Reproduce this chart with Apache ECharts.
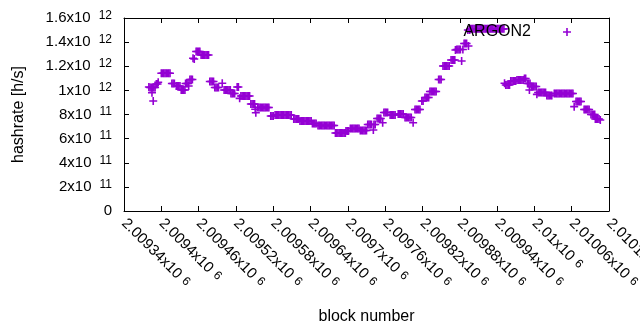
<!DOCTYPE html>
<html>
<head>
<meta charset="utf-8">
<script src="https://cdn.jsdelivr.net/npm/echarts/dist/echarts.min.js"></script>
<style>
  html, body { margin: 0; padding: 0; background: #fff; }
  #chart { width: 640px; height: 330px; }
</style>
</head>
<body>
<div id="chart"></div>
<script>
// block numbers (x) and hashrate in GH/s (y)
var blocks = [
  2009380, 2009382, 2009384, 2009386, 2009388, 2009390, 2009387, 2009385,
  2009392, 2009394, 2009395,
  2009400, 2009402, 2009404, 2009406, 2009408, 2009410, 2009412, 2009414,
  2009417, 2009419, 2009421,
  2009424, 2009426, 2009428, 2009430,
  2009432, 2009434, 2009436, 2009438,
  2009439, 2009441, 2009443, 2009444,
  2009446, 2009448, 2009450, 2009451, 2009453,
  2009456, 2009458, 2009460, 2009462,
  2009464, 2009466, 2009468, 2009470, 2009472, 2009474, 2009476,
  2009478, 2009480, 2009482, 2009484,
  2009486, 2009488, 2009490, 2009492,
  2009498, 2009501, 2009503, 2009505, 2009507, 2009509, 2009511,
  2009512, 2009514, 2009516, 2009518,
  2009522, 2009524, 2009526,
  2009528, 2009530, 2009532, 2009534, 2009536, 2009538, 2009540, 2009542,
  2009544, 2009546, 2009548, 2009550, 2009551, 2009552,
  2009555, 2009557, 2009559, 2009561, 2009563, 2009565, 2009567, 2009569, 2009571, 2009573,
  2009576, 2009578, 2009580,
  2009583, 2009585, 2009587, 2009589, 2009591, 2009593, 2009595, 2009597, 2009599, 2009601, 2009603, 2009605, 2009607, 2009609,
  2009613, 2009615, 2009617, 2009619, 2009621,
  2009623, 2009625, 2009627, 2009629, 2009631, 2009633, 2009635, 2009637, 2009639, 2009641,
  2009643, 2009645, 2009647, 2009649,
  2009652, 2009654, 2009656, 2009658, 2009660, 2009662, 2009664, 2009666, 2009668, 2009670, 2009672, 2009674, 2009676, 2009678,
  2009680, 2009682, 2009684, 2009686, 2009688, 2009690, 2009692, 2009694, 2009696,
  2009697, 2009699, 2009701,
  2009704, 2009706, 2009708, 2009710, 2009712, 2009714, 2009716, 2009718,
  2009720, 2009722, 2009724, 2009726, 2009728, 2009730,
  2009732, 2009734, 2009736, 2009738, 2009741, 2009742, 2009744,
  2009747, 2009749, 2009751, 2009753, 2009756,
  2009758, 2009760, 2009762, 2009764,
  2009768, 2009770, 2009772, 2009774, 2009776,
  2009781, 2009783, 2009785, 2009787, 2009789,
  2009792, 2009794, 2009796, 2009798, 2009800, 2009802, 2009805,
  2009808, 2009810, 2009812, 2009814, 2009816,
  2009819, 2009821,
  2009824, 2009826, 2009828, 2009830,
  2009832, 2009834, 2009836, 2009838, 2009840, 2009842,
  2009846, 2009848, 2009850,
  2009853, 2009855, 2009857, 2009859, 2009861, 2009863,
  2009866, 2009868, 2009870, 2009872, 2009873,
  2009875, 2009877, 2009879, 2009881, 2009883, 2009885,
  2009887, 2009889, 2009891, 2009893, 2009894, 2009896,
  2009897, 2009899, 2009901, 2009903, 2009905, 2009907, 2009909, 2009911, 2009913, 2009915, 2009917, 2009919, 2009921, 2009923,
  2009925, 2009927, 2009929, 2009931, 2009933, 2009935, 2009937, 2009939, 2009941, 2009943, 2009945, 2009947, 2009949, 2009951,
  2009952, 2009954, 2009956, 2009958, 2009960,
  2009962, 2009964, 2009966, 2009968, 2009970,
  2009972, 2009974, 2009976, 2009978, 2009980, 2009982, 2009984, 2009986,
  2009989, 2009991, 2009992, 2009993,
  2009995, 2009997, 2009999, 2010001, 2010003, 2010004,
  2010006, 2010008, 2010010, 2010012, 2010014, 2010016, 2010018,
  2010020, 2010022, 2010024, 2010026, 2010028,
  2010032, 2010034, 2010036, 2010038, 2010040, 2010042, 2010044, 2010046, 2010048, 2010050, 2010052, 2010054, 2010056, 2010058, 2010060, 2010062,
  2010064, 2010067, 2010069, 2010071, 2010073, 2010075,
  2010080, 2010082, 2010084, 2010086, 2010088,
  2010091, 2010093, 2010095, 2010097, 2010098, 2010100, 2010102, 2010104, 2010106
];
var hashrateGH = [
  1028, 1024, 1024, 1024, 1024, 1024, 912, 981,
  1053, 1053, 1067,
  1142, 1142, 1142, 1142, 1142, 1142, 1142, 1142,
  1057, 1057, 1057,
  1036, 1036, 1036, 1036,
  1003, 1003, 1003, 1003,
  1057, 1057, 1057, 1036,
  1090, 1090, 1090, 1266, 1260,
  1322, 1322, 1322, 1322,
  1293, 1293, 1293, 1293, 1293, 1293, 1293,
  1074, 1074, 1074, 1074,
  1024, 1024, 1024, 1024,
  1059, 1003, 1003, 1003, 1003, 1003, 1003,
  974, 974, 974, 974,
  1028, 1028, 934,
  953, 953, 953, 953, 953, 953, 953, 953,
  887, 887, 887, 887, 843, 815,
  858, 858, 858, 858, 858, 858, 858, 858, 858, 858,
  788, 788, 788,
  796, 796, 796, 796, 796, 796, 796, 796, 796, 796, 796, 796, 796, 796,
  763, 763, 763, 763, 763,
  746, 746, 746, 746, 746, 746, 746, 746, 746, 746,
  725, 725, 725, 725,
  709, 709, 709, 709, 709, 709, 709, 709, 709, 709, 709, 709, 709, 709,
  647, 647, 647, 647, 647, 647, 647, 647, 647,
  663, 663, 663,
  684, 684, 684, 684, 684, 684, 684, 684,
  667, 667, 667, 667, 667, 667,
  717, 717, 717, 717, 671, 717, 717,
  767, 767, 767, 767, 732,
  817, 817, 817, 817,
  796, 796, 796, 796, 796,
  804, 804, 804, 804, 804,
  775, 775, 775, 775, 775, 775, 732,
  841, 841, 841, 841, 841,
  912, 912,
  941, 941, 941, 941,
  991, 991, 991, 991, 991, 991,
  1090, 1090, 1090,
  1202, 1202, 1202, 1202, 1202, 1202,
  1252, 1252, 1252, 1252, 1335,
  1339, 1339, 1339, 1339, 1244, 1339,
  1389, 1389, 1389, 1500, 1368, 1500,
  1510, 1510, 1510, 1510, 1510, 1510, 1510, 1510, 1510, 1510, 1510, 1510, 1510, 1510,
  1510, 1510, 1510, 1510, 1510, 1510, 1510, 1510, 1510, 1510, 1510, 1510, 1510, 1510,
  1059, 1045, 1045, 1045, 1045,
  1078, 1078, 1078, 1078, 1078,
  1086, 1086, 1086, 1086, 1086, 1086, 1098, 1098,
  1057, 1057, 1003, 1057,
  1032, 1032, 1032, 1032, 1032, 967,
  982, 982, 982, 982, 982, 982, 982,
  957, 957, 957, 957, 957,
  974, 974, 974, 974, 974, 974, 974, 974, 974, 974, 974, 974, 974, 974, 974, 974,
  865, 908, 908, 908, 908, 908,
  841, 841, 841, 841, 841,
  800, 800, 800, 800, 763, 763, 763, 763, 755
];

var xMin = 2009340, xMax = 2010120, xStep = 60;
var yMin = 0, yMax = 1.6e12, yStep = 2e11;

var purple = '#9400d3';
var plus = 'path://M3.2,0H4.8V3.2H8V4.8H4.8V8H3.2V4.8H0V3.2H3.2Z';

// gnuplot style "1.6x10^12"
function sci(v) {
  if (v === 0) return '{m|0}';
  var e = Math.floor(Math.log10(Math.abs(v)) + 1e-9);
  var m = parseFloat((v / Math.pow(10, e)).toFixed(5));
  return '{m|' + m + 'x10}{s|' + e + '}';
}
var richY = {
  m: { fontSize: 15, color: '#000', fontFamily: 'Liberation Sans' },
  s: { fontSize: 12, color: '#000', fontFamily: 'Liberation Sans', padding: [0, 0, 5, 8] }
};
var richX = {
  m: { fontSize: 15, color: '#000', fontFamily: 'Liberation Sans' },
  s: { fontSize: 12, color: '#000', fontFamily: 'Liberation Sans', padding: [0, 0, 2, 5] }
};

var points = blocks.map(function (b, i) { return [b, hashrateGH[i] * 1e9]; });

var tick = { show: true, inside: true, length: 5, lineStyle: { color: '#000', width: 1 } };
var line = { show: true, onZero: false, lineStyle: { color: '#000', width: 1 } };

var myChart = echarts.init(document.getElementById('chart'));
myChart.setOption({
  animation: false,
  textStyle: { fontFamily: 'Liberation Sans', color: '#000' },
  grid: { left: 124, right: 31, top: 18, bottom: 119, containLabel: false, outerBoundsMode: 'none' },
  legend: {
    data: ['ARGON2'],
    right: 69,
    top: 24,
    padding: 0,
    align: 'right',
    icon: plus,
    itemWidth: 8,
    itemHeight: 8,
    textStyle: { fontSize: 16, color: '#000', padding: [0, 27, 0, 0] }
  },
  xAxis: [{
    type: 'value', min: xMin, max: xMax, interval: xStep,
    position: 'bottom',
    axisLine: line, axisTick: tick, splitLine: { show: false },
    axisLabel: { rotate: -45, margin: 10, formatter: sci, rich: richX, hideOverlap: false },
    name: 'block number', nameLocation: 'middle', nameGap: 98,
    nameTextStyle: { fontSize: 16, color: '#000' }
  }, {
    type: 'value', min: xMin, max: xMax, interval: xStep,
    position: 'top',
    axisLine: line, axisTick: tick, splitLine: { show: false },
    axisLabel: { show: false }
  }],
  yAxis: [{
    type: 'value', min: yMin, max: yMax, interval: yStep,
    position: 'left',
    axisLine: line, axisTick: tick, splitLine: { show: false },
    axisLabel: { margin: 12, formatter: sci, rich: richY },
    name: 'hashrate [h/s]', nameLocation: 'middle', nameGap: 97,
    nameTextStyle: { fontSize: 16, color: '#000' }
  }, {
    type: 'value', min: yMin, max: yMax, interval: yStep,
    position: 'right',
    axisLine: line, axisTick: tick, splitLine: { show: false },
    axisLabel: { show: false }
  }],
  series: [{
    name: 'ARGON2',
    type: 'scatter',
    symbol: plus,
    symbolSize: 8,
    itemStyle: { color: purple, opacity: 1 },
    data: points
  }]
});
</script>
</body>
</html>
